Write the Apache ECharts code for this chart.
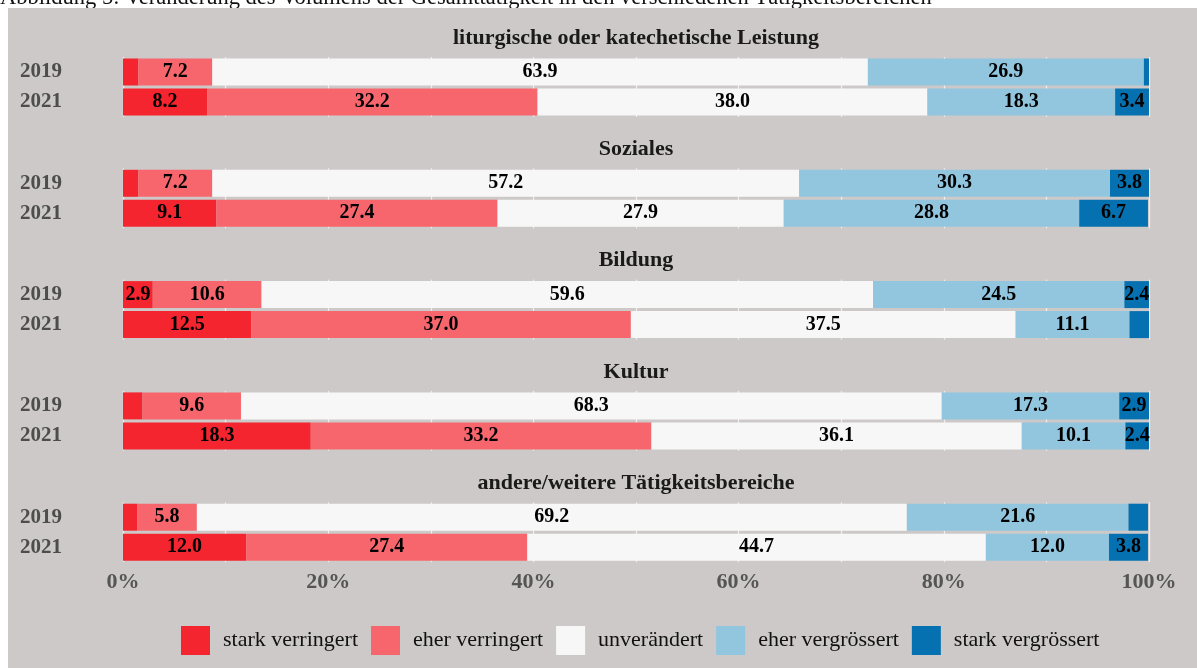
<!DOCTYPE html>
<html>
<head>
<meta charset="utf-8">
<script src="https://cdn.jsdelivr.net/npm/echarts@6/dist/echarts.min.js"></script>
<style>
  html, body { margin: 0; padding: 0; background: #fff; }
  #chart { width: 1197px; height: 668px; }
</style>
</head>
<body>
<div id="chart"></div>
<script>
// Bereiche (Panels) und Jahre
var bereiche = ['liturgische oder katechetische Leistung', 'Soziales', 'Bildung', 'Kultur', 'andere/weitere Tätigkeitsbereiche'];
var jahre = ['2019', '2021'];
var stufen = ['stark verringert', 'eher verringert', 'unverändert', 'eher vergrössert', 'stark vergrössert'];
var farben = ['#F4252F', '#F8666D', '#F7F7F7', '#92C6DF', '#0571B0'];
var xTicks = [0, 20, 40, 60, 80, 100];

// Werte je Bereich: [2019, 2021]
var starkVerringert = [[1.5, 8.2], [1.5, 9.1], [2.9, 12.5], [1.9, 18.3], [1.4, 12.0]];
var eherVerringert  = [[7.2, 32.2], [7.2, 27.4], [10.6, 37.0], [9.6, 33.2], [5.8, 27.4]];
var unveraendert    = [[63.9, 38.0], [57.2, 27.9], [59.6, 37.5], [68.3, 36.1], [69.2, 44.7]];
var eherVergroessert = [[26.9, 18.3], [30.3, 28.8], [24.5, 11.1], [17.3, 10.1], [21.6, 12.0]];
var starkVergroessert = [[0.5, 3.4], [3.8, 6.7], [2.4, 1.9], [2.9, 2.4], [1.9, 3.8]];

var werte = [starkVerringert, eherVerringert, unveraendert, eherVergroessert, starkVergroessert];

var chart = echarts.init(document.getElementById('chart'));
var font = 'Liberation Serif';

var grids = [], xAxes = [], yAxes = [], series = [];
// Überschrift liegt halb unter dem grauen Hintergrund (abgeschnitten wie im Original)
var graphics = [
    {
        type: 'text', x: 0, y: 10, z: 0,
        style: { text: 'Abbildung 5: Veränderung des Volumens der Gesamttätigkeit in den verschiedenen Tätigkeitsbereichen',
                 font: '22.5px "Liberation Serif"', fill: '#111', verticalAlign: 'bottom' }
    },
    {
        type: 'rect', silent: true, z: 0,
        shape: { x: 8, y: 8, width: 1189, height: 660 },
        style: { fill: '#CDC9C8' }
    }
];
for (var i = 0; i < bereiche.length; i++) {
    var gridTop = 57 + i * 111.3;
    grids.push({ left: 123, right: 48, top: gridTop, height: 60 });
    graphics.push({
        type: 'text', x: 636, y: gridTop - 19, z: 1,
        style: { text: bereiche[i], font: 'bold 22px "Liberation Serif"', fill: '#1a1a1a',
                 align: 'center', verticalAlign: 'middle' }
    });
    var letzte = i === bereiche.length - 1;
    xAxes.push({
        type: 'value', gridIndex: i, min: 0, max: 100, interval: 10,
        axisLine: { show: false }, axisTick: { show: false },
        splitLine: { show: true, lineStyle: { color: '#efeded', width: 1.2 } },
        axisLabel: {
            show: letzte, margin: 9,
            fontFamily: font, fontSize: 22, fontWeight: 'bold', color: '#555',
            formatter: function (v) { return xTicks.indexOf(v) >= 0 ? v + '%' : ''; }
        }
    });
    yAxes.push({
        type: 'category', gridIndex: i, data: jahre, inverse: true,
        axisLine: { show: false }, axisTick: { show: false },
        axisLabel: { margin: 61, fontFamily: font, fontSize: 21, fontWeight: 'bold', color: '#4d4d4d' }
    });
    for (var j = 0; j < stufen.length; j++) {
        series.push({
            type: 'bar', name: stufen[j], stack: 'p' + i,
            xAxisIndex: i, yAxisIndex: i, barWidth: 27,
            itemStyle: { color: farben[j] },
            label: {
                show: true, position: 'inside',
                fontFamily: font, fontSize: 20, fontWeight: 'bold', color: '#000',
                formatter: function (p) { return p.value >= 2 ? p.value.toFixed(1) : ''; }
            },
            data: werte[j][i]
        });
    }
}

chart.setOption({
    animation: false,
    graphic: { elements: graphics },
    grid: grids,
    xAxis: xAxes,
    yAxis: yAxes,
    legend: {
        data: stufen, left: 176, top: 621,
        itemWidth: 29, itemHeight: 29, itemGap: 13,
        icon: 'rect',
        textStyle: { fontFamily: font, fontSize: 22, color: '#111', padding: [0, 0, 0, 8] }
    },
    series: series
});
</script>
</body>
</html>
